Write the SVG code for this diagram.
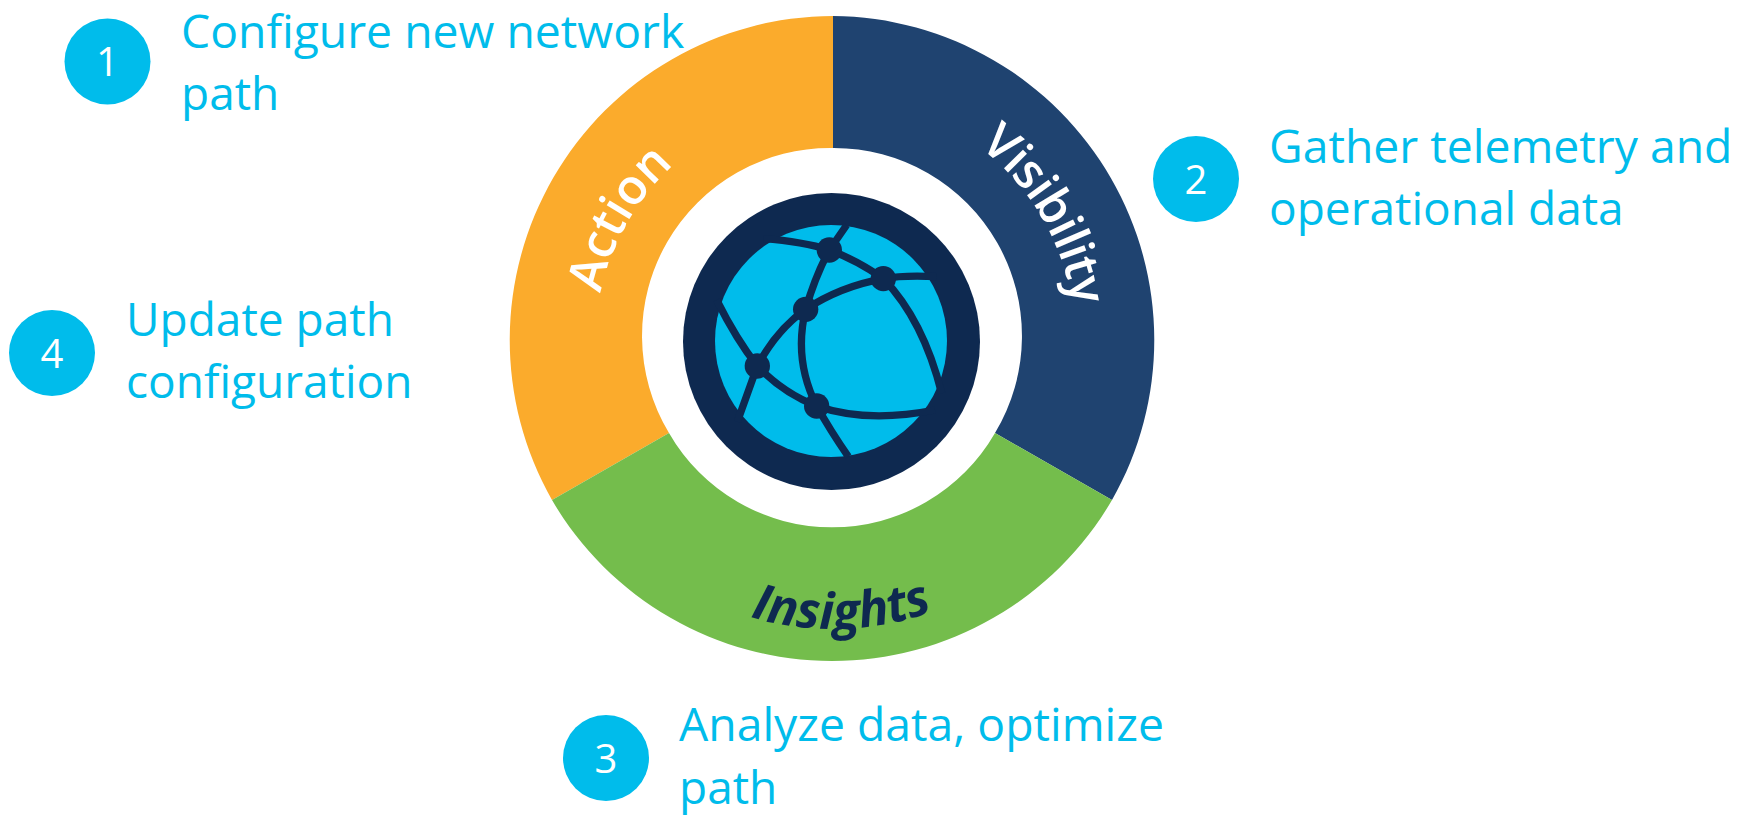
<svg xmlns="http://www.w3.org/2000/svg" width="1756" height="815" viewBox="0 0 1756 815">
<style>
.t{font-family:"Open Sans","Noto Sans",sans-serif;font-size:46.3px;fill:#00BCEB}
.s{font-size:46px}
.n{font-family:"Open Sans","Noto Sans",sans-serif;font-size:40px;fill:#fff;text-anchor:middle}
.b{fill:#00BCEB}
.a{font-family:"Open Sans","Noto Sans",sans-serif;font-size:49px;font-weight:600;text-anchor:middle}
.g{fill:none;stroke:#0E2950;stroke-width:22}
.d{fill:#0E2950}
</style>
<defs>
<path id="pa" d="M 596 340 A 236 236 0 0 1 832 104"/>
<path id="pv" d="M 832 97 A 243 243 0 0 1 1075 340"/>
<path id="pi" d="M 544 340 A 289 289 0 0 0 1122 340"/>
</defs>
<g id="ring">
<path fill="#FBAB2C" d="M833 16 A324 324 0 0 0 552 500 L669 433 A188 188 0 0 1 833 148 Z"/>
<path fill="#1F4370" d="M833 16 A324 324 0 0 1 1112 500 L995 433 A188 188 0 0 0 833 148 Z"/>
<path fill="#74BD4C" d="M552 500 A324 324 0 0 0 1112 500 L995 433 A188 188 0 0 1 669 433 Z"/>
<text class="a" fill="#fff"><textPath href="#pa" startOffset="33%">Action</textPath></text>
<text class="a" fill="#fff" letter-spacing="-1"><textPath href="#pv" startOffset="66%">Visibility</textPath></text>
<text class="a" fill="#0E2950" style="font-size:50px;font-weight:700" font-style="italic"><textPath href="#pi" startOffset="51%">Insights</textPath></text>
</g>
<g id="globe">
<circle class="d" cx="831.5" cy="341.5" r="148.5"/>
<circle class="b" cx="831" cy="341" r="116"/>
<g transform="translate(660 180) scale(.33333)">
<path class="g" d="M310 176Q430 185 508 210L560 135M508 210Q590 240 670 296Q730 285 830 290M508 210Q465 290 437 388Q540 320 670 296Q790 420 845 640M437 388Q400 540 470 678M437 388Q350 450 292 558Q230 480 170 360M292 558L232 725M292 558Q370 640 470 678Q620 730 825 690M470 678Q510 750 565 830"/>
<circle class="d" cx="508" cy="210" r="38"/><circle class="d" cx="670" cy="296" r="38"/><circle class="d" cx="437" cy="388" r="38"/><circle class="d" cx="292" cy="558" r="38"/><circle class="d" cx="470" cy="678" r="38"/>
</g>
</g>
<g id="step1"><circle class="b" cx="107.500" cy="61.500" r="43"/><text class="n" x="107.500" y="76">1</text><text class="t" x="181" y="48">Configure new network</text><text class="t s" x="181" y="110">path</text></g>
<g id="step2"><circle class="b" cx="1196" cy="179" r="43"/><text class="n" x="1196" y="194">2</text><text class="t" x="1269" y="163">Gather telemetry and</text><text class="t s" x="1269" y="225">operational data</text></g>
<g id="step3"><circle class="b" cx="606" cy="758" r="43"/><text class="n" x="606" y="773">3</text><text class="t" x="679" y="741">Analyze data, optimize</text><text class="t s" x="679" y="804">path</text></g>
<g id="step4"><circle class="b" cx="52" cy="353" r="43"/><text class="n" x="52" y="368">4</text><text class="t s" x="126" y="336">Update path</text><text class="t s" x="126" y="398">configuration</text></g>
</svg>
